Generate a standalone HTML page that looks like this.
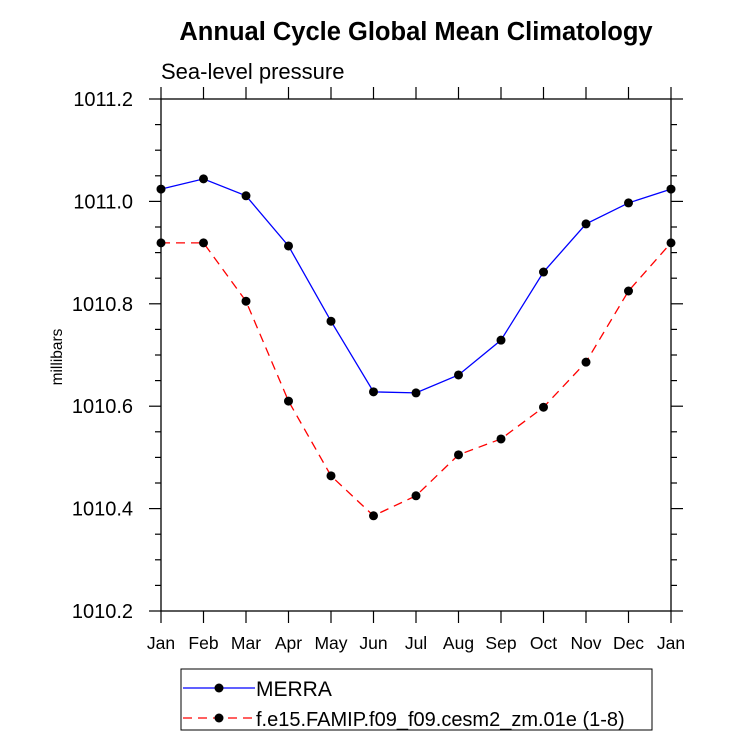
<!DOCTYPE html>
<html><head><meta charset="utf-8"><style>
html,body{margin:0;padding:0;background:#fff;}
svg{display:block;font-family:"Liberation Sans",sans-serif;}
</style></head><body>
<svg id="c" width="733" height="744">
<text x="416" y="40" text-anchor="middle" font-size="25.5" font-weight="bold">Annual Cycle Global Mean Climatology</text>
<text x="161" y="79" font-size="22">Sea-level pressure</text>
<text transform="translate(62,357) rotate(-90)" text-anchor="middle" font-size="15.5">millibars</text>
<g id="ax"></g>
<g id="marks"></g>
<g>
<rect x="181" y="669" width="471" height="61" fill="#fff" stroke="#000" stroke-width="1"/>
<g>
<line x1="183" y1="688" x2="255" y2="688" stroke="#0000ff" stroke-width="1.3"/>
<circle cx="219" cy="688" r="4.5" fill="#000"/>
<text x="256" y="696" font-size="21">MERRA</text></g>
<g>
<line x1="183" y1="718" x2="255" y2="718" stroke="#ff0000" stroke-width="1.3" stroke-dasharray="9,6"/>
<circle cx="219" cy="718" r="4.5" fill="#000"/>
<text x="256" y="726" font-size="20">f.e15.FAMIP.f09_f09.cesm2_zm.01e (1-8)</text></g>
</g>
</svg>
<script>
const months=["Jan","Feb","Mar","Apr","May","Jun","Jul","Aug","Sep","Oct","Nov","Dec","Jan"];
const merra=[1011.024,1011.044,1011.011,1010.913,1010.766,1010.628,1010.626,1010.661,1010.729,1010.862,1010.956,1010.997,1011.024];
const model=[1010.919,1010.919,1010.805,1010.610,1010.464,1010.386,1010.425,1010.505,1010.536,1010.598,1010.686,1010.825,1010.919];
const yTicks=[1010.2,1010.4,1010.6,1010.8,1011.0,1011.2];
const L=161,R=671,T=99,B=611,yMin=1010.2,yMax=1011.2;
const xs=i=>L+(R-L)*i/(months.length-1);
const ys=v=>B-(v-yMin)/(yMax-yMin)*(B-T);
const NS="http://www.w3.org/2000/svg";
function mk(tag,attrs,parent){const e=document.createElementNS(NS,tag);for(const k in attrs)e.setAttribute(k,attrs[k]);parent.appendChild(e);return e;}
const ax=document.getElementById('ax'),mg=document.getElementById('marks');
const frame=mk('rect',{x:L,y:T,width:R-L,height:B-T,fill:'none',stroke:'#000','stroke-width':1.3},ax);


months.forEach((m,i)=>{const x=xs(i);
 mk('line',{x1:x,y1:B,x2:x,y2:B+12,stroke:'#000','stroke-width':1.2},ax);
 mk('line',{x1:x,y1:T,x2:x,y2:T-12,stroke:'#000','stroke-width':1.2},ax);
 const t=mk('text',{x:x,y:649,'text-anchor':'middle','font-size':17.5},ax);t.textContent=m;
 
 
});
for(let v=yMin;v<=yMax+1e-9;v+=0.05){const y=ys(v);const major=Math.abs(Math.round(v*5)-v*5)<1e-6;const len=major?12:6;
 mk('line',{x1:L-len,y1:y,x2:L,y2:y,stroke:'#000','stroke-width':1.2},ax);
 mk('line',{x1:R,y1:y,x2:R+len,y2:y,stroke:'#000','stroke-width':1.2},ax);}
yTicks.forEach(v=>{const t=mk('text',{x:133,y:ys(v)+7,'text-anchor':'end','font-size':20},ax);t.textContent=v.toFixed(1);
 
 });
function series(vals,color,dash,name){
 const p=mk('polyline',{points:vals.map((v,i)=>xs(i)+','+ys(v)).join(' '),fill:'none',stroke:color,'stroke-width':1.3},mg);
 if(dash)p.setAttribute('stroke-dasharray',dash);
 
 
 vals.forEach((v,i)=>{const c=mk('circle',{cx:xs(i),cy:ys(v),r:4.5,fill:'#000'},mg);
  
  });
}
series(merra,'#0000ff',null,'merra');
series(model,'#ff0000','9,6','model');
</script>
</body></html>
